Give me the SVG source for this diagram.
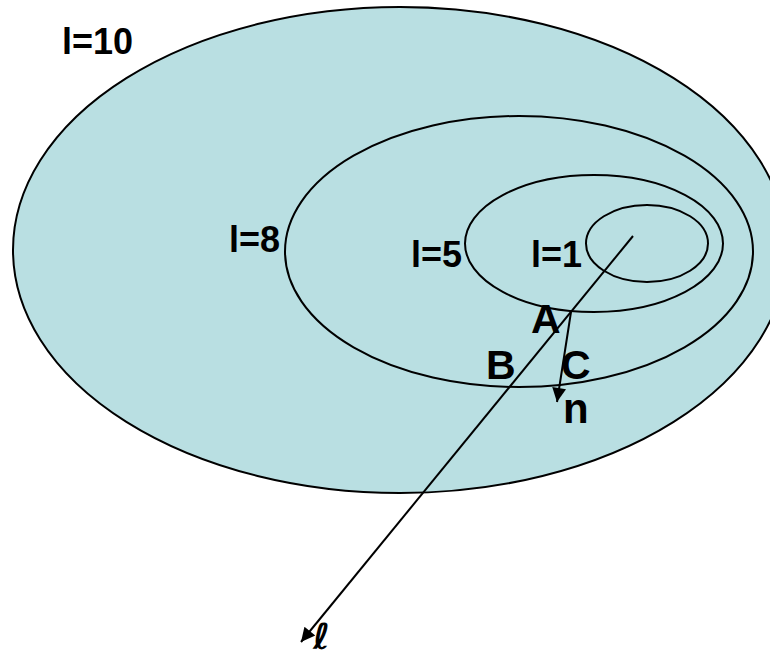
<svg xmlns="http://www.w3.org/2000/svg" width="770" height="658" viewBox="0 0 770 658">
<style>
.e{fill:none;stroke:#000;stroke-width:2}
.t{font-family:"Liberation Sans",Arial,sans-serif;font-weight:bold;fill:#000}
.c{stroke:#000;stroke-width:2;fill:none}
</style>
<defs>
<marker id="ah" viewBox="0 0 10 10" refX="10" refY="5" markerWidth="8" markerHeight="7" markerUnits="strokeWidth" orient="auto">
<path d="M0,0 L10,5 L0,10 Z" fill="#000"/>
</marker>
</defs>
<rect width="770" height="658" fill="#fff"/>
<g id="region-l10">
<ellipse cx="400" cy="250" rx="387" ry="243" fill="#b9dfe2" stroke="#000" stroke-width="2"/>
<text class="t" x="62" y="54" font-size="36">l=10</text>
</g>
<g id="region-l8">
<ellipse class="e" cx="519" cy="251.5" rx="234" ry="135.5"/>
<text class="t" x="229" y="252" font-size="36">l=8</text>
</g>
<g id="region-l5">
<ellipse class="e" cx="594" cy="243.5" rx="129" ry="68.5"/>
<text class="t" x="411" y="267" font-size="36">l=5</text>
</g>
<g id="region-l1">
<ellipse class="e" cx="647" cy="243.5" rx="61" ry="38.5"/>
<text class="t" x="531" y="267" font-size="36">l=1</text>
</g>
<g id="connectors">
<line class="c" x1="633" y1="236" x2="301" y2="642" marker-end="url(#ah)"/>
<line class="c" x1="571" y1="312" x2="557" y2="402" marker-end="url(#ah)"/>
</g>
<g id="labels">
<text class="t" x="531" y="333" font-size="41">A</text>
<text class="t" x="486" y="379" font-size="41">B</text>
<text class="t" x="561" y="379" font-size="41">C</text>
<text class="t" x="563" y="423" font-size="42">n</text>
<text x="313" y="649" font-size="36" font-weight="bold" style="font-family:'DejaVu Sans',sans-serif">ℓ</text>
</g>
</svg>
